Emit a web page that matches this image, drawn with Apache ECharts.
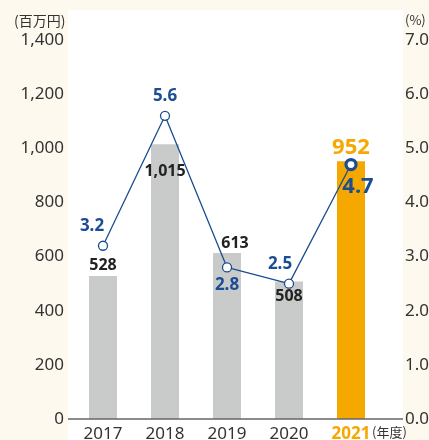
<!DOCTYPE html>
<html><head><meta charset="utf-8">
<script src="https://cdn.jsdelivr.net/npm/echarts@6/dist/echarts.min.js"></script>
<style>html,body{margin:0;padding:0;background:#fdf9ef}#c{width:429px;height:440px}</style>
</head><body><div id="c"></div>
<script>
const categories = ['2017','2018','2019','2020','2021'];
const profit = [528, 1015, 613, 508, 952];
const profitLabels = ['528','1,015','613','508','952'];
const margin = [3.2, 5.6, 2.8, 2.5, 4.7];
const leftTicks = [0,200,400,600,800,1000,1200,1400];
const rightTicks = [0,1,2,3,4,5,6,7];

const GREY = '#c9caca', ORANGE = '#f5a800', BLUE = '#1b4d92';
const FONT = '"Noto Sans", "Noto Sans CJK JP", sans-serif';

const barLabelCfg = [
  {position:'top', distance:3, offset:[0,0]},
  {position:'insideTop', distance:0, offset:[0,19]},
  {position:'top', distance:2, offset:[8,0]},
  {position:'insideTop', distance:0, offset:[0,7]},
  {position:'top', distance:3, offset:[0,0], big:true}
];
const lineLabelCfg = [
  {position:'top', offset:[-11,-1]},
  {position:'top', offset:[0,-1]},
  {position:'bottom', offset:[0,-1]},
  {position:'top', offset:[-9,-1]},
  {position:'bottom', offset:[7,0], big:true}
];

const barData = profit.map((v,i)=>{
  const c = barLabelCfg[i];
  return {
    value: v,
    itemStyle: {color: i===4 ? ORANGE : GREY},
    label: {
      show:true, position:c.position, distance:c.distance, offset:c.offset,
      formatter: profitLabels[i],
      color: c.big ? ORANGE : '#222', fontWeight:'bold',
      fontSize: c.big ? 22 : 16, fontFamily: FONT
    }
  };
});
const lineData = margin.map((v,i)=>{
  const c = lineLabelCfg[i];
  const last = i===4;
  return {
    value: v,
    symbolSize: last ? 10 : 9,
    itemStyle: {color:'#fff', borderColor:BLUE, borderWidth: last ? 3.2 : 1.3},
    label: {
      show:true, position:c.position, offset:c.offset, distance:5,
      formatter: v.toFixed(1), color:BLUE, fontWeight:'bold',
      fontSize: last ? 22 : 17, fontFamily: FONT
    }
  };
});

const chart = echarts.init(document.getElementById('c'));
chart.setOption({
  backgroundColor:'#fdf9ef',
  animation:false,
  textStyle:{fontFamily:FONT},
  grid:{left:72, right:47, top:40, bottom:21, containLabel:false, outerBoundsMode:'none'},
  graphic:[
    {type:'rect', z:-10, shape:{x:68, y:10, width:335, height:430}, style:{fill:'#ffffff'}, silent:true},
    {type:'line', z:10, shape:{x1:68, y1:419, x2:403, y2:419}, style:{stroke:'#666', lineWidth:1.5}},
    {type:'text', left:14, top:14, style:{text:'(百万円)', font:'14px "Noto Sans CJK JP"', fill:'#333'}},
    {type:'text', left:405, top:14, style:{text:'(%)', font:'13px "Noto Sans CJK JP"', fill:'#333'}},
    {type:'text', left:372, top:426, style:{text:'(年度)', font:'13px "Noto Sans CJK JP"', fill:'#333'}}
  ],
  xAxis:{
    type:'category', data:categories,
    axisLine:{show:false}, axisTick:{show:false},
    axisLabel:{
      interval:0, margin:7, fontSize:17, color:'#333', fontFamily:FONT,
      formatter:(v)=> v==='2021' ? '{o|'+v+'}' : v,
      rich:{o:{color:ORANGE, fontWeight:'bold', fontSize:17, fontFamily:FONT}}
    }
  },
  yAxis:[
    {type:'value', min:0, max:1400, interval:200,
     axisLine:{show:false}, axisTick:{show:false}, splitLine:{show:false},
     axisLabel:{margin:8, fontSize:17, color:'#333', fontFamily:FONT,
       formatter:(v)=> v.toLocaleString('en-US')}},
    {type:'value', min:0, max:7, interval:1,
     axisLine:{show:false}, axisTick:{show:false}, splitLine:{show:false},
     axisLabel:{margin:23, fontSize:17, color:'#333', fontFamily:FONT,
       formatter:(v)=> v.toFixed(1)}}
  ],
  series:[
    {type:'bar', data:barData, barWidth:28, yAxisIndex:0, z:2},
    {type:'line', data:lineData, yAxisIndex:1, symbol:'circle', z:5,
     lineStyle:{color:BLUE, width:1.3}}
  ]
});
</script></body></html>
